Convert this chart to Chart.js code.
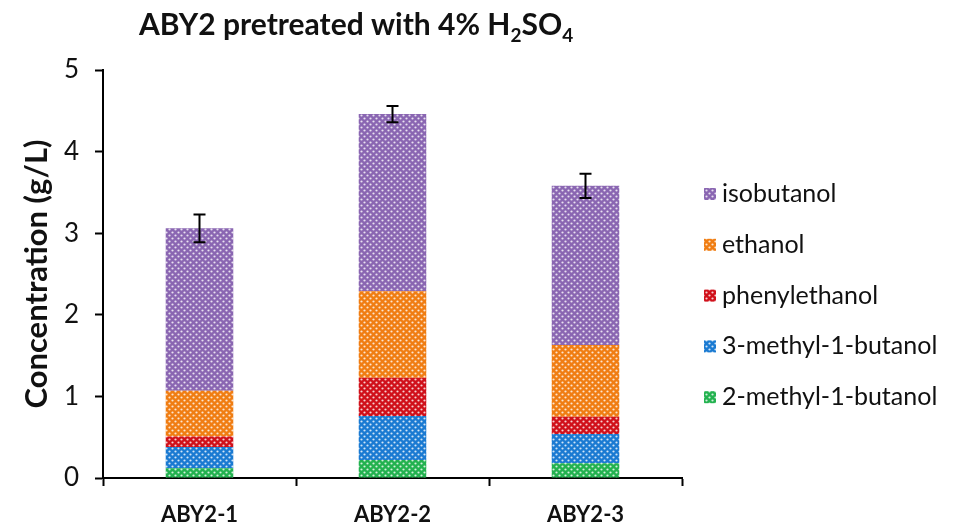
<!DOCTYPE html>
<html>
<head>
<meta charset="utf-8">
<title>ABY2 pretreated with 4% H2SO4</title>
<script src="https://cdn.jsdelivr.net/npm/chart.js@4/dist/chart.umd.min.js"></script>
<style>
    html, body { margin: 0; padding: 0; background: #fff; }
    #wrap { width: 957px; height: 532px; position: relative; }
</style>
</head>
<body>
<div id="wrap"><canvas id="alcoholChart"></canvas></div>
<script>
// Chart data
const categories = ['ABY2-1', 'ABY2-2', 'ABY2-3'];
const methylButanol2 = [0.12, 0.22, 0.18];
const methylButanol3 = [0.26, 0.54, 0.36];
const phenylethanol = [0.13, 0.47, 0.21];
const ethanol = [0.56, 1.06, 0.88];
const isobutanol = [1.99, 2.17, 1.95];
const totalErrors = [0.17, 0.10, 0.15];
const yTicks = [0, 1, 2, 3, 4, 5];

const FONT = 'Lato';

// Dotted fill like the original Excel pattern
function dotPattern(color) {
    const tile = document.createElement('canvas');
    tile.width = 6;
    tile.height = 6;
    const c = tile.getContext('2d');
    c.fillStyle = color;
    c.fillRect(0, 0, 6, 6);
    c.fillStyle = 'rgba(255, 255, 255, 0.8)';
    [[1.5, 1.5], [4.5, 4.5]].forEach(([x, y]) => {
        c.beginPath();
        c.arc(x, y, 1.1, 0, Math.PI * 2);
        c.fill();
    });
    return c.createPattern(tile, 'repeat');
}

// Title with subscripts
const titlePlugin = {
    id: 'subTitle',
    afterDraw(chart) {
        const ctx = chart.ctx;
        const parts = [
            { t: 'ABY2 pretreated with 4% H', sub: false },
            { t: '2', sub: true },
            { t: 'SO', sub: false },
            { t: '4', sub: true }
        ];
        let x = 139;
        ctx.save();
        ctx.fillStyle = '#111';
        ctx.textBaseline = 'alphabetic';
        ctx.textAlign = 'left';
        parts.forEach(p => {
            ctx.font = p.sub ? `bold 19px ${FONT}` : `bold 30px ${FONT}`;
            ctx.fillText(p.t, x, p.sub ? 42 : 35);
            x += ctx.measureText(p.t).width;
        });
        ctx.restore();
    }
};

// Error bars on top of each stack
const errorBarPlugin = {
    id: 'errorBars',
    afterDatasetsDraw(chart) {
        const ctx = chart.ctx;
        const xScale = chart.scales.x;
        const yScale = chart.scales.y;
        ctx.save();
        ctx.strokeStyle = '#000';
        ctx.lineWidth = 2;
        categories.forEach((cat, i) => {
            const total = chart.data.datasets.reduce((s, ds) => s + ds.data[i], 0);
            const x = xScale.getPixelForValue(i);
            const yHi = yScale.getPixelForValue(total + totalErrors[i]);
            const yLo = yScale.getPixelForValue(total - totalErrors[i]);
            ctx.beginPath();
            ctx.moveTo(x, yHi);
            ctx.lineTo(x, yLo);
            ctx.moveTo(x - 6, yHi);
            ctx.lineTo(x + 6, yHi);
            ctx.moveTo(x - 6, yLo);
            ctx.lineTo(x + 6, yLo);
            ctx.stroke();
        });
        ctx.restore();
    }
};

// Legend on the right, isobutanol first
const legendPlugin = {
    id: 'sideLegend',
    afterDraw(chart) {
        const ctx = chart.ctx;
        const items = chart.data.datasets.slice().reverse();
        ctx.save();
        ctx.font = `25px ${FONT}`;
        ctx.textBaseline = 'middle';
        ctx.textAlign = 'left';
        items.forEach((ds, i) => {
            const y = 194 + i * 50.8;
            ctx.fillStyle = ds.backgroundColor;
            ctx.fillRect(704, y - 6, 12, 12);
            ctx.fillStyle = '#111';
            ctx.fillText(ds.label, 722, y);
        });
        ctx.restore();
    }
};

function initChart() {
    const ctx = document.getElementById('alcoholChart').getContext('2d');
    const seriesColors = ['#22b24f', '#1a7ad2', '#d0101a', '#f07d12', '#8a66b2'];
    const seriesData = [methylButanol2, methylButanol3, phenylethanol, ethanol, isobutanol];
    const seriesLabels = ['2-methyl-1-butanol', '3-methyl-1-butanol', 'phenylethanol', 'ethanol', 'isobutanol'];

    new Chart(ctx, {
        type: 'bar',
        data: {
            labels: categories,
            datasets: seriesData.map((d, i) => ({
                label: seriesLabels[i],
                data: d,
                backgroundColor: dotPattern(seriesColors[i]),
                borderWidth: 0,
                barPercentage: 0.35,
                categoryPercentage: 1
            }))
        },
        options: {
            responsive: true,
            maintainAspectRatio: false,
            animation: false,
            layout: {
                padding: { left: 0, top: 70, right: 275, bottom: 0 }
            },
            scales: {
                x: {
                    stacked: true,
                    grid: {
                        offset: true,
                        drawOnChartArea: false,
                        drawTicks: true,
                        tickLength: 8,
                        tickWidth: 2,
                        tickColor: '#000'
                    },
                    border: { color: '#000', width: 2 },
                    ticks: {
                        color: '#111',
                        padding: 16,
                        font: { family: FONT, size: 22, weight: 'bold' }
                    },
                    afterFit: (scale) => { scale.height = 54; }
                },
                y: {
                    stacked: true,
                    min: 0,
                    max: 5,
                    afterBuildTicks: (scale) => { scale.ticks = yTicks.map(v => ({ value: v })); },
                    grid: {
                        drawOnChartArea: false,
                        drawTicks: true,
                        tickLength: 8,
                        tickWidth: 2,
                        tickColor: '#000'
                    },
                    border: { color: '#000', width: 2 },
                    ticks: {
                        color: '#111',
                        padding: 16,
                        font: { family: FONT, size: 26 }
                    },
                    title: {
                        display: true,
                        text: 'Concentration (g/L)',
                        color: '#111',
                        padding: { top: 18, bottom: 0 },
                        font: { family: FONT, size: 31, weight: 'bold' }
                    },
                    afterFit: (scale) => { scale.width = 103; }
                }
            },
            plugins: {
                legend: { display: false },
                tooltip: { enabled: false }
            }
        },
        plugins: [titlePlugin, errorBarPlugin, legendPlugin]
    });
}

document.addEventListener('DOMContentLoaded', initChart);
</script>
</body>
</html>
